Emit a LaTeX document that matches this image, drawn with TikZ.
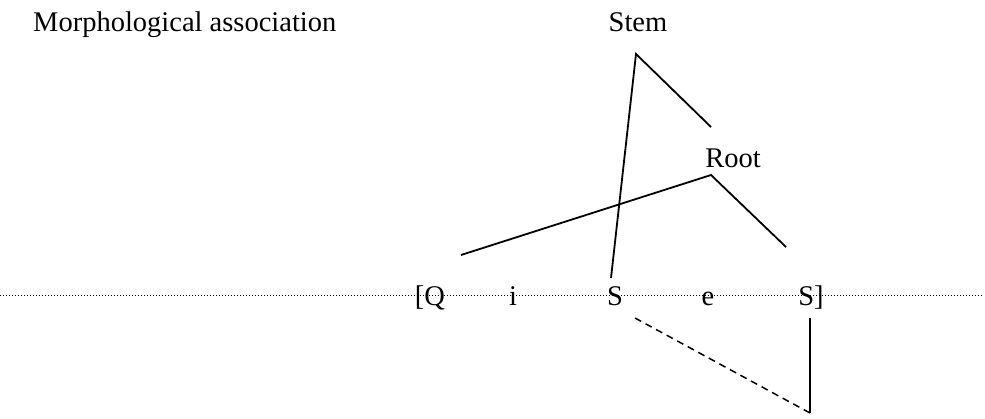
\documentclass[tikz,border=0pt]{standalone}
\usepackage{fontspec}
\setmainfont{Liberation Serif}
\usetikzlibrary{positioning}

\begin{document}
\begin{tikzpicture}[x=1pt,y=-1pt,
  lbl/.style={font=\fontsize{28.5}{34}\selectfont,inner sep=0pt,anchor=base},
  assoc/.style={line width=1.8pt},
  tier/.style={line width=1.2pt,dash pattern=on 1.2pt off 1.8pt}]
\useasboundingbox (0,0) rectangle (985,418);
% labels
\node[lbl,anchor=base west] (title) at (33,31) {Morphological association};
\node[lbl] (stem) at (638,31) {Stem};
\node[lbl] (root) at (733,167) {Root};
% melody tier
\foreach \x/\txt/\n in {430/[Q/q,513/i/i,615/S/s1,708/e/e,811/S]/s2}
  \node[lbl] (\n) at (\x,305) {\txt};
\coordinate (tl) at (0,295);
\coordinate (tr) at (983,295);
\foreach \d in {0,3,...,981}
  \fill ([xshift=\d pt]tl) rectangle ++(1.3,1.3);
% tree nodes
\coordinate (stemv) at (636,54);
\coordinate (rootv) at (711,175);
\coordinate (stemr) at (711,127);
\coordinate (stems) at (611,278);
\coordinate (rootq) at (461,255);
\coordinate (roots) at (786,247);
\draw[assoc] (stems) -- (stemv) -- (stemr);
\draw[assoc] (rootq) -- (rootv) -- (roots);
% dashed and vertical
\coordinate (da) at (635,318);
\coordinate (db) at (810,413);
\coordinate (vb) at (810,318);
\draw[assoc,line width=1.5pt,dash pattern=on 7pt off 5pt] (da) -- (db);
\draw[assoc] (vb) -- (db);
\end{tikzpicture}
\end{document}
